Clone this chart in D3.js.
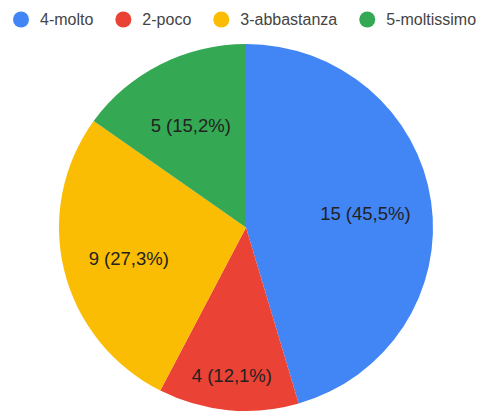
<!DOCTYPE html>
<html>
<head>
<meta charset="utf-8">
<script src="https://cdn.jsdelivr.net/npm/d3@7"></script>
<style>
  body { margin: 0; background: #fff; }
  text { font-family: Arial, "Liberation Sans", sans-serif; }
</style>
</head>
<body>
<div id="chart"></div>
<script>
// answers (same order as legend and slices, clockwise from 12 o'clock)
const categories = ["4-molto", "2-poco", "3-abbastanza", "5-moltissimo"];
const counts = [15, 4, 9, 5];
const colors = ["#4285f4", "#ea4335", "#fbbc04", "#34a853"];

let width = 478;
let height = 414;

// pie is a touch wider than tall in the reference
let cx = 246, cy = 227.5;
let rx = 187, ry = 183.5;

let it = d3.formatLocale({decimal: ",", thousands: ".", grouping: [3], currency: ["", "€"]});
let pct = it.format(".1%");

let svg = d3.select("#chart").append("svg")
    .attr("width", width)
    .attr("height", height);

let color = d3.scaleOrdinal().domain(categories).range(colors);

let pie = d3.pie().sort(null).value(d => d.value);
let data = categories.map((c, i) => ({key: c, value: counts[i]}));
let arcs = pie(data);
let total = d3.sum(counts);

let arc = d3.arc().innerRadius(0).outerRadius(rx);

let pieG = svg.append("g")
    .attr("transform", "translate(" + cx + "," + cy + ") scale(1," + (ry / rx) + ")");

pieG.selectAll("path")
    .data(arcs)
    .enter()
    .append("path")
    .attr("d", arc)
    .style("fill", d => color(d.data.key));

// ---- slice labels: push outward until the box sits inside the wedge
let labelG = svg.append("g").attr("transform", "translate(" + cx + "," + cy + ")");

let fontSize = 18.5;

function fits(d, x, y, w, h, pad) {
    let corners = [[x - w / 2, y - h / 2], [x + w / 2, y - h / 2], [x - w / 2, y + h / 2], [x + w / 2, y + h / 2]];
    return corners.every(p => {
        if (Math.hypot(p[0] / rx, p[1] / ry) > 0.95) return false;
        let a = Math.atan2(p[0], -p[1]);
        if (a < 0) a += 2 * Math.PI;
        let r = Math.hypot(p[0], p[1]);
        if (a < d.startAngle || a > d.endAngle) return false;
        let s0 = Math.sin(Math.min(a - d.startAngle, Math.PI / 2)) * r;
        let s1 = Math.sin(Math.min(d.endAngle - a, Math.PI / 2)) * r;
        return s0 >= pad && s1 >= pad;
    });
}

labelG.selectAll("text")
    .data(arcs)
    .enter()
    .append("text")
    .attr("text-anchor", "middle")
    .attr("dy", "0.5em")
    .style("font-size", fontSize + "px")
    .style("fill", "#222")
    .text(d => d.data.value + " (" + pct(d.data.value / total) + ")")
    .each(function(d) {
        let w = this.getComputedTextLength();
        let h = fontSize;
        let mid = (d.startAngle + d.endAngle) / 2;
        let t = 0.645, x, y;
        for (; t < 0.9; t += 0.01) {
            x = Math.sin(mid) * rx * t;
            y = -Math.cos(mid) * ry * t;
            if (fits(d, x, y + 0.15 * fontSize, w, h, 14)) break;
        }
        d3.select(this).attr("x", x).attr("y", y);
    });

// ---- legend
let legend = svg.append("g").attr("class", "legend");
let lx = 13;
categories.forEach((c, i) => {
    let item = legend.append("g");
    item.append("circle")
        .attr("cx", lx + 8)
        .attr("cy", 19.5)
        .attr("r", 8)
        .style("fill", color(c));
    let txt = item.append("text")
        .attr("x", lx + 27)
        .attr("y", 19.5)
        .attr("dy", "0.35em")
        .style("font-size", "16px")
        .style("fill", "#444")
        .text(c);
    lx += 27 + txt.node().getComputedTextLength() + 22;
});
</script>
</body>
</html>
